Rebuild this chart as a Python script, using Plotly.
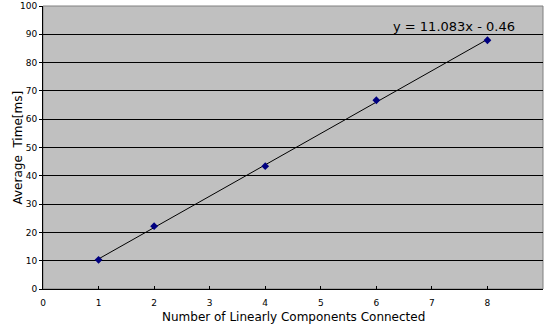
import plotly.graph_objects as go

components = [1, 2, 4, 6, 8]
avg_time_ms = [10.3, 22.2, 43.4, 66.7, 87.9]
slope = 11.083
intercept = -0.46
trend_x = [1, 8]
trend_y = [slope * x + intercept for x in trend_x]
x_ticks = [0, 1, 2, 3, 4, 5, 6, 7, 8]
y_ticks = [0, 10, 20, 30, 40, 50, 60, 70, 80, 90, 100]

fig = go.Figure()
fig.add_trace(go.Scatter(x=trend_x, y=trend_y, mode="lines",
                         line=dict(color="black", width=1), showlegend=False, hoverinfo="skip"))
fig.add_trace(go.Scatter(x=components, y=avg_time_ms, mode="markers",
                         marker=dict(symbol="diamond", size=6, color="#000080"),
                         showlegend=False))
fig.add_annotation(x=7.4, y=92.6, text="y = 11.083x - 0.46", showarrow=False,
                   font=dict(family="DejaVu Sans", size=13, color="black"))
fig.add_annotation(xref="paper", yref="paper", x=0.5, y=0, yshift=-28,
                   xanchor="center", yanchor="middle",
                   text="Number of Linearly Components Connected", showarrow=False,
                   font=dict(family="DejaVu Sans", size=12, color="black"))
fig.add_annotation(xref="paper", yref="paper", x=0, xshift=-26, y=0.5, textangle=-90,
                   xanchor="center", yanchor="middle",
                   text="Average  Time[ms]", showarrow=False,
                   font=dict(family="DejaVu Sans", size=12, color="black"))

fig.update_layout(
    width=545, height=326,
    margin=dict(l=43, r=2, t=6, b=37),
    paper_bgcolor="white", plot_bgcolor="#C0C0C0",
    font=dict(family="DejaVu Sans", size=9, color="black"),
    xaxis=dict(range=[0, 9], tickvals=x_ticks, showgrid=False, zeroline=False,
               showline=True, linecolor="black", linewidth=1, automargin=False,
               ticks="inside", ticklen=3, tickcolor="black", ticklabelstandoff=5),
    yaxis=dict(range=[0, 100], tickvals=y_ticks, showgrid=True, gridcolor="black", gridwidth=1,
               zeroline=False, showline=True, linecolor="black", linewidth=1, automargin=False,
               ticks="outside", ticklen=3, tickcolor="black"),
)
fig.add_shape(type="rect", xref="paper", yref="paper", x0=0, x1=1, y0=0, y1=1,
              line=dict(color="#808080", width=1), layer="below")
fig.write_html("out.html", config={"displayModeBar": False},
               post_script="document.body.style.margin='0';")
